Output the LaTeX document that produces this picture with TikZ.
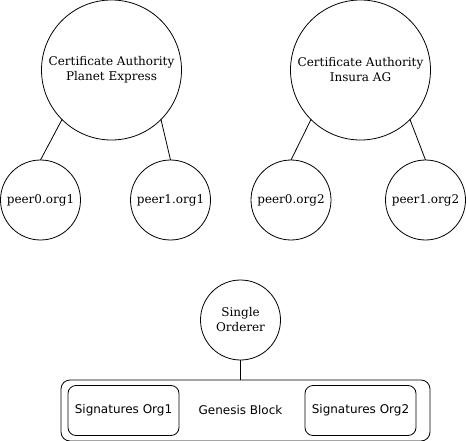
\documentclass[tikz,border=0pt]{standalone}
\usepackage{fontspec}
\setmainfont{DejaVu Serif}
\setsansfont{DejaVu Sans}
\begin{document}
\begin{tikzpicture}[x=1pt,y=-1pt,
  every node/.style={inner sep=0pt, outer sep=0pt},
  bigcirc/.style={draw, circle, minimum size=140pt, align=center, font=\fontsize{12}{15}\selectfont},
  smallcirc/.style={draw, circle, minimum size=80pt, align=center, font=\fontsize{12}{15}\selectfont},
  sigbox/.style={draw, rounded corners=8pt, minimum width=111pt, minimum height=50pt, font=\sffamily\fontsize{12}{15}\selectfont},
  outerbox/.style={draw, rounded corners=9pt, minimum width=369pt, minimum height=61pt},
  conn/.style={draw, line width=0.8pt},
  line width=0.8pt]
\useasboundingbox (0,0) rectangle (466,441);
\node[bigcirc] (ca1) at (111.5,70) {Certificate Authority\\Planet Express};
\node[bigcirc] (ca2) at (360.5,70) {Certificate Authority\\Insura AG};
\node[smallcirc] (p0o1) at (40.5,200) {peer0.org1};
\node[smallcirc] (p1o1) at (170.5,200) {peer1.org1};
\node[smallcirc] (p0o2) at (291,200) {peer0.org2};
\node[smallcirc] (p1o2) at (425.5,200) {peer1.org2};
\node[smallcirc] (ord) at (240.5,320) {Single\\Orderer};
\node[outerbox] (gen) at (245.5,410.5) {};
\node[font=\sffamily\fontsize{12}{15}\selectfont] (gtxt) at (240.5,410) {Genesis Block};
\node[sigbox] (s1) at (123.5,410.5) {Signatures Org1};
\node[sigbox] (s2) at (360.5,410.5) {Signatures Org2};
\draw[conn] (ca1.south west) -- (p0o1.north);
\draw[conn] (ca1.south east) -- (p1o1.north);
\draw[conn] (ca2.south west) -- (p0o2.north);
\draw[conn] (ca2.south east) -- (p1o2.north);
\draw[conn] (ord.south) -- (ord.south |- gen.north);
\end{tikzpicture}
\end{document}
